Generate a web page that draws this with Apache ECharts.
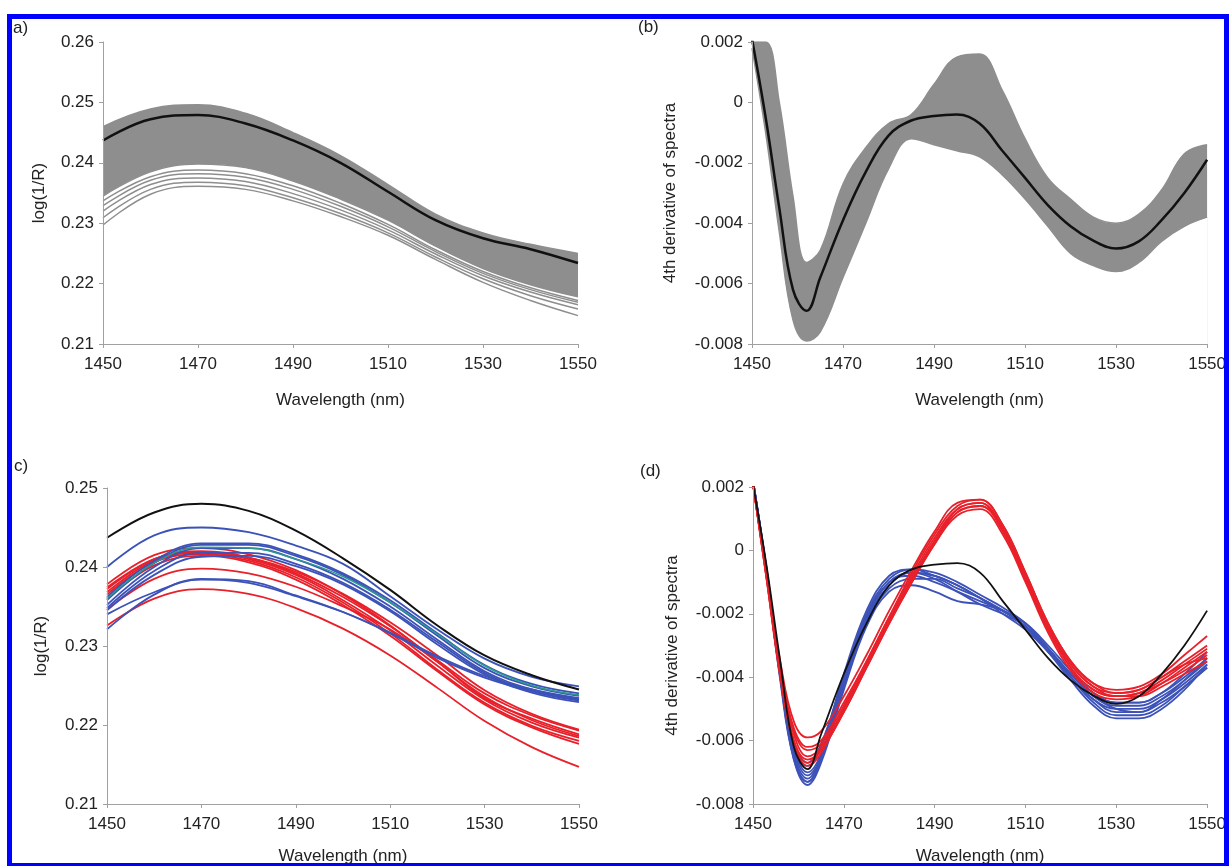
<!DOCTYPE html>
<html>
<head>
<meta charset="utf-8">
<script src="https://cdn.jsdelivr.net/npm/echarts@6/dist/echarts.min.js"></script>
<style>
  html, body { margin: 0; padding: 0; background: #fff; }
  #chart { width: 1229px; height: 866px; }
</style>
</head>
<body>
<div id="chart"></div>
<script>
// wavelength grids (nm)
const wl = [1450, 1460, 1470, 1480, 1490, 1500, 1510, 1520, 1530, 1540, 1550];
const wlD = [1450, 1453, 1456, 1459, 1462, 1465, 1470, 1475, 1480, 1485, 1490, 1495,
  1500, 1505, 1510, 1515, 1520, 1525, 1530, 1535, 1540, 1545, 1550];

// (a) raw spectra: mean + envelope of the grey band + loose lower curves
const aMean = [0.2437, 0.2472, 0.2479, 0.2465, 0.2437, 0.2400, 0.2352, 0.2305, 0.2275, 0.2257, 0.2234];
const aUpper = [0.2460, 0.2489, 0.2496, 0.2482, 0.2450, 0.2412, 0.2364, 0.2315, 0.2284, 0.2265, 0.2250];
const aDense = [0.2345, 0.2385, 0.2398, 0.2392, 0.2370, 0.2340, 0.2305, 0.2262, 0.2225, 0.2198, 0.2178];
const aLoose = [
  [0.2337, 0.2377, 0.2388, 0.2382, 0.2362, 0.2333, 0.2298, 0.2256, 0.2220, 0.2193, 0.2172],
  [0.2329, 0.2371, 0.2382, 0.2376, 0.2356, 0.2328, 0.2294, 0.2253, 0.2217, 0.2190, 0.2169],
  [0.2320, 0.2364, 0.2375, 0.2369, 0.2349, 0.2322, 0.2289, 0.2249, 0.2213, 0.2186, 0.2165],
  [0.2309, 0.2356, 0.2368, 0.2362, 0.2342, 0.2316, 0.2284, 0.2244, 0.2208, 0.2180, 0.2158],
  [0.2297, 0.2348, 0.2361, 0.2356, 0.2337, 0.2311, 0.2280, 0.2240, 0.2202, 0.2172, 0.2147]
];

// (b) 4th derivative: mean + envelope of the grey band
const bMean = [0.0021, -0.0005, -0.0035, -0.0062, -0.0069, -0.0058, -0.0039, -0.0023, -0.0011, -0.0006,
  -0.00045, -0.0004, -0.0007, -0.0016, -0.0025, -0.0034, -0.0041, -0.00458, -0.00484, -0.0046, -0.0039, -0.0030, -0.0019];
const bUpper = [0.0020, 0.0020, 0.0000, -0.0031, -0.0053, -0.0049, -0.0027, -0.0015, -0.0007, -0.0004,
  0.0006, 0.0015, 0.0016, 0.0004, -0.0012, -0.0025, -0.0032, -0.0038, -0.0040, -0.0037, -0.0029, -0.0017, -0.0014];
const bLower = [0.0018, -0.0010, -0.0043, -0.0072, -0.0079, -0.0076, -0.0058, -0.0040, -0.0022, -0.0012,
  -0.0014, -0.0016, -0.0018, -0.0024, -0.0032, -0.0041, -0.0050, -0.0054, -0.0056, -0.0053, -0.0046, -0.0041, -0.0038];

// (c) selected raw spectra
const cMean = [0.2437, 0.2469, 0.2480, 0.2471, 0.2446, 0.2411, 0.2371, 0.2326, 0.2288, 0.2263, 0.2245];
const cRed = [
  [0.2326, 0.2360, 0.2372, 0.2366, 0.2348, 0.2322, 0.2288, 0.2247, 0.2205, 0.2172, 0.2147],
  [0.2346, 0.2385, 0.2398, 0.2392, 0.2375, 0.2350, 0.2321, 0.2280, 0.2234, 0.2208, 0.2188],
  [0.2372, 0.2410, 0.2420, 0.2412, 0.2392, 0.2362, 0.2325, 0.2282, 0.2240, 0.2212, 0.2193],
  [0.2368, 0.2408, 0.2418, 0.2410, 0.2390, 0.2358, 0.2320, 0.2275, 0.2232, 0.2203, 0.2184],
  [0.2378, 0.2415, 0.2424, 0.2416, 0.2396, 0.2365, 0.2326, 0.2280, 0.2236, 0.2206, 0.2186],
  [0.2365, 0.2406, 0.2416, 0.2408, 0.2387, 0.2355, 0.2316, 0.2270, 0.2228, 0.2199, 0.2180],
  [0.2360, 0.2402, 0.2414, 0.2406, 0.2384, 0.2352, 0.2313, 0.2268, 0.2226, 0.2197, 0.2176],
  [0.2374, 0.2410, 0.2419, 0.2412, 0.2394, 0.2366, 0.2330, 0.2288, 0.2244, 0.2214, 0.2194]
];
const cBlue = [
  [0.2400, 0.2440, 0.2450, 0.2444, 0.2427, 0.2404, 0.2363, 0.2321, 0.2284, 0.2261, 0.2249],
  [0.2352, 0.2400, 0.2424, 0.2424, 0.2410, 0.2385, 0.2350, 0.2308, 0.2268, 0.2245, 0.2233],
  [0.2358, 0.2405, 0.2428, 0.2428, 0.2414, 0.2390, 0.2355, 0.2313, 0.2272, 0.2249, 0.2237],
  [0.2348, 0.2395, 0.2418, 0.2418, 0.2404, 0.2380, 0.2346, 0.2305, 0.2266, 0.2243, 0.2231],
  [0.2345, 0.2390, 0.2413, 0.2414, 0.2401, 0.2378, 0.2344, 0.2302, 0.2264, 0.2241, 0.2229],
  [0.2362, 0.2408, 0.2430, 0.2430, 0.2416, 0.2392, 0.2358, 0.2316, 0.2276, 0.2252, 0.2240],
  [0.2321, 0.2365, 0.2385, 0.2382, 0.2364, 0.2343, 0.2316, 0.2285, 0.2260, 0.2243, 0.2232],
  [0.2340, 0.2368, 0.2384, 0.2380, 0.2363, 0.2343, 0.2317, 0.2287, 0.2262, 0.2245, 0.2234]
];
const cTeal = [0.2360, 0.2405, 0.2425, 0.2424, 0.2410, 0.2388, 0.2355, 0.2315, 0.2275, 0.2250, 0.2238];

// (d) selected 4th derivatives
const dRed = [
  [0.0021, -0.0007, -0.0035, -0.0054, -0.0059, -0.0057, -0.0046, -0.0033, -0.0019, -0.0006, 0.0006, 0.0015, 0.0016, 0.0008, -0.0007, -0.0023, -0.0035, -0.0042, -0.0044, -0.0043, -0.0039, -0.0033, -0.0027],
  [0.0021, -0.0008, -0.0037, -0.0056, -0.0062, -0.0060, -0.0048, -0.0035, -0.0021, -0.0008, 0.0004, 0.0013, 0.0015, 0.0007, -0.0008, -0.0024, -0.0036, -0.0043, -0.0045, -0.0044, -0.0040, -0.0035, -0.0030],
  [0.0021, -0.0008, -0.0038, -0.0058, -0.0065, -0.0062, -0.0050, -0.0036, -0.0022, -0.0009, 0.0003, 0.0012, 0.0014, 0.0006, -0.0009, -0.0025, -0.0037, -0.0044, -0.0046, -0.0045, -0.0041, -0.0036, -0.0031],
  [0.0021, -0.0009, -0.0039, -0.0060, -0.0067, -0.0063, -0.0051, -0.0037, -0.0023, -0.0010, 0.0002, 0.0011, 0.0013, 0.0005, -0.0010, -0.0026, -0.0038, -0.0045, -0.0047, -0.0046, -0.0042, -0.0037, -0.0032],
  [0.0021, -0.0009, -0.0040, -0.0061, -0.0068, -0.0064, -0.0050, -0.0036, -0.0022, -0.0009, 0.0003, 0.0013, 0.0015, 0.0006, -0.0009, -0.0025, -0.0037, -0.0044, -0.0046, -0.0045, -0.0042, -0.0038, -0.0033],
  [0.0021, -0.0008, -0.0037, -0.0057, -0.0063, -0.0061, -0.0049, -0.0035, -0.0021, -0.0007, 0.0005, 0.0014, 0.0016, 0.0008, -0.0007, -0.0023, -0.0035, -0.0042, -0.0045, -0.0044, -0.0040, -0.0036, -0.0034],
  [0.0021, -0.0009, -0.0039, -0.0060, -0.0066, -0.0063, -0.0051, -0.0037, -0.0023, -0.0010, 0.0002, 0.0012, 0.0014, 0.0007, -0.0008, -0.0024, -0.0036, -0.0043, -0.0046, -0.0046, -0.0043, -0.0039, -0.0035]
];
const dBlue = [
  [0.0022, -0.0006, -0.0038, -0.0062, -0.0070, -0.0064, -0.0040, -0.0020, -0.0009, -0.0006, -0.0007, -0.0010, -0.0014, -0.0018, -0.0023, -0.0031, -0.0039, -0.0046, -0.0049, -0.0049, -0.0046, -0.0041, -0.0035],
  [0.0022, -0.0007, -0.0040, -0.0065, -0.0073, -0.0066, -0.0042, -0.0022, -0.0011, -0.0007, -0.0008, -0.0011, -0.0015, -0.0019, -0.0024, -0.0032, -0.0040, -0.0047, -0.0050, -0.0050, -0.0047, -0.0042, -0.0036],
  [0.0022, -0.0006, -0.0039, -0.0064, -0.0072, -0.0065, -0.0041, -0.0021, -0.0010, -0.0008, -0.0010, -0.0013, -0.0016, -0.0019, -0.0023, -0.0030, -0.0038, -0.0045, -0.0048, -0.0048, -0.0045, -0.0040, -0.0034],
  [0.0022, -0.0007, -0.0040, -0.0066, -0.0074, -0.0067, -0.0044, -0.0024, -0.0013, -0.0011, -0.0013, -0.0016, -0.0017, -0.0019, -0.0023, -0.0031, -0.0040, -0.0048, -0.0052, -0.0052, -0.0049, -0.0043, -0.0037],
  [0.0022, -0.0006, -0.0037, -0.0061, -0.0068, -0.0062, -0.0039, -0.0019, -0.0008, -0.0006, -0.0008, -0.0011, -0.0015, -0.0019, -0.0024, -0.0032, -0.0041, -0.0049, -0.0053, -0.0053, -0.0050, -0.0044, -0.0036],
  [0.0022, -0.0007, -0.0039, -0.0063, -0.0071, -0.0065, -0.0043, -0.0023, -0.0012, -0.0009, -0.0009, -0.0012, -0.0015, -0.0019, -0.0024, -0.0031, -0.0039, -0.0046, -0.0050, -0.0051, -0.0048, -0.0043, -0.0037],
  [0.0022, -0.0006, -0.0037, -0.0061, -0.0067, -0.0061, -0.0040, -0.0021, -0.0010, -0.0007, -0.0008, -0.0011, -0.0015, -0.0020, -0.0025, -0.0032, -0.0039, -0.0045, -0.0048, -0.0048, -0.0045, -0.0039, -0.0032],
  [0.0022, -0.0007, -0.0041, -0.0066, -0.0073, -0.0066, -0.0043, -0.0022, -0.0010, -0.0007, -0.0009, -0.0013, -0.0017, -0.0020, -0.0024, -0.0031, -0.0040, -0.0047, -0.0051, -0.0051, -0.0047, -0.0041, -0.0034]
];

const FONT = "'Liberation Sans', Arial, sans-serif";
const GREY = '#8e8e8e';
const RED = '#e8202a';
const BLUE = '#3c52b8';

function pts(xs, ys) {
  return xs.map(function (x, i) { return [x, ys[i]]; });
}
function line(idx, xs, ys, color, width, z) {
  return {
    type: 'line', xAxisIndex: idx, yAxisIndex: idx, data: pts(xs, ys),
    smooth: 0.4, symbol: 'none', silent: true, z: z || 2,
    lineStyle: { color: color, width: width }
  };
}
// filled area down to the axis minimum (used in pairs to paint a band)
function fill(idx, xs, ys, color) {
  return {
    type: 'line', xAxisIndex: idx, yAxisIndex: idx, data: pts(xs, ys),
    smooth: 0.4, symbol: 'none', silent: true, z: 1,
    lineStyle: { width: 0 },
    areaStyle: { color: color, opacity: 1, origin: 'start' }
  };
}

function xAx(idx, gap) {
  return {
    type: 'value', gridIndex: idx, min: 1450, max: 1550, interval: 20, z: 10,
    axisLine: { onZero: false, lineStyle: { color: '#a0a0a0', width: 1 } },
    axisTick: { show: true, length: 4, lineStyle: { color: '#a0a0a0' } },
    axisLabel: {
      color: '#222', fontSize: 17, fontFamily: FONT, margin: 12,
      formatter: function (v) { return String(v); }
    },
    splitLine: { show: false },
    name: 'Wavelength (nm)', nameLocation: 'middle', nameGap: gap,
    nameTextStyle: { color: '#222', fontSize: 17, fontFamily: FONT }
  };
}
function yAx(idx, min, max, step, digits, name, gap) {
  return {
    type: 'value', gridIndex: idx, min: min, max: max, interval: step, z: 10,
    axisLine: { show: true, onZero: false, lineStyle: { color: '#a0a0a0', width: 1 } },
    axisTick: { show: true, length: 4, lineStyle: { color: '#a0a0a0' } },
    axisLabel: {
      color: '#222', fontSize: 17, fontFamily: FONT, margin: 9,
      formatter: function (v) { return Math.abs(v) < 1e-9 ? '0' : v.toFixed(digits); }
    },
    splitLine: { show: false },
    name: name, nameLocation: 'middle', nameGap: gap,
    nameTextStyle: { color: '#222', fontSize: 17, fontFamily: FONT }
  };
}

const series = [];
// (a)
series.push(fill(0, wl, aUpper, GREY));
series.push(fill(0, wl, aDense, '#fff'));
series.push(line(0, wl, aUpper, GREY, 1.5));
series.push(line(0, wl, aDense, GREY, 1.5));
aLoose.forEach(function (ys) { series.push(line(0, wl, ys, GREY, 1.5)); });
series.push(line(0, wl, aMean, '#111', 2.5, 3));
// (b)
series.push(fill(1, wlD, bUpper, GREY));
series.push(fill(1, wlD, bLower, '#fff'));
series.push(line(1, wlD, bUpper, GREY, 1.5));
series.push(line(1, wlD, bLower, GREY, 1.5));
series.push(line(1, wlD, bMean, '#111', 2.5, 3));
// (c)
cRed.forEach(function (ys) { series.push(line(2, wl, ys, RED, 1.8)); });
cBlue.forEach(function (ys) { series.push(line(2, wl, ys, BLUE, 1.8)); });
series.push(line(2, wl, cTeal, '#2b9a8c', 1.5));
series.push(line(2, wl, cMean, '#111', 2, 3));
// (d)
dBlue.forEach(function (ys) { series.push(line(3, wlD, ys, BLUE, 1.8)); });
dRed.forEach(function (ys) { series.push(line(3, wlD, ys, RED, 1.8)); });
series.push(line(3, wlD, bMean, '#111', 1.8, 3));

function label(text, x, y) {
  return {
    type: 'text', left: x, top: y, z: 20,
    style: { text: text, fill: '#222', font: '17px ' + FONT }
  };
}
function bar(x, y, w, h) {
  return { type: 'rect', shape: { x: x, y: y, width: w, height: h }, style: { fill: '#0000ff' }, z: 30 };
}

const chart = echarts.init(document.getElementById('chart'));
chart.setOption({
  animation: false,
  backgroundColor: '#fff',
  grid: [
    { left: 103, top: 42, width: 475, height: 302 },
    { left: 752, top: 42, width: 460, height: 302 },
    { left: 107, top: 488, width: 472, height: 319 },
    { left: 753, top: 487, width: 460, height: 321 }
  ],
  xAxis: [xAx(0, 48), xAx(1, 48), xAx(2, 44), xAx(3, 44)],
  yAxis: [
    yAx(0, 0.21, 0.26, 0.01, 2, 'log(1/R)', 55),
    yAx(1, -0.008, 0.002, 0.002, 3, '4th derivative of spectra', 73),
    yAx(2, 0.21, 0.25, 0.01, 2, 'log(1/R)', 57),
    yAx(3, -0.008, 0.002, 0.002, 3, '4th derivative of spectra', 72)
  ],
  series: series,
  graphic: [
    label('a)', 13, 20),
    label('(b)', 638, 19),
    label('c)', 14, 458),
    label('(d)', 640, 463),
    bar(7, 14, 1222, 5),
    bar(7, 14, 5, 852),
    bar(1224, 14, 5, 852),
    bar(7, 863, 1222, 3)
  ]
});
window.onresize = function () {
  chart.resize();
};
</script>
</body>
</html>
